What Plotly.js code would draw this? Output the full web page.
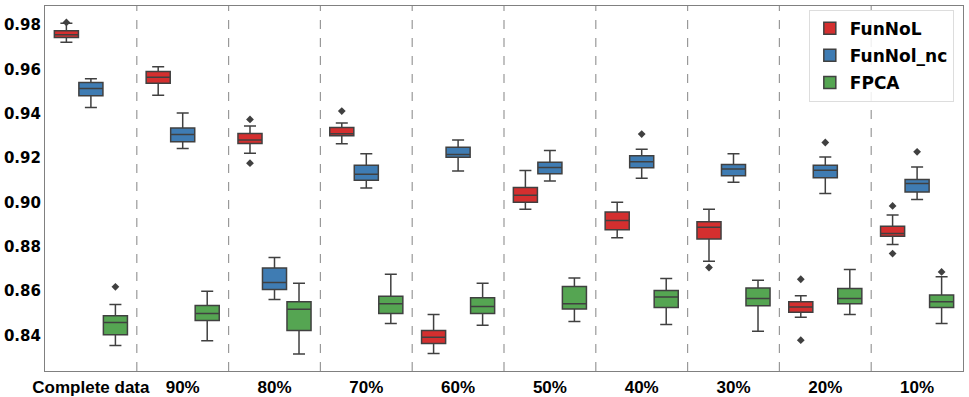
<!DOCTYPE html>
<html>
<head>
<meta charset="utf-8">
<script src="https://cdn.plot.ly/plotly-3.0.1.min.js"></script>
<style>
  html, body { margin: 0; padding: 0; background: #fff; }
  #chart { width: 969px; height: 397px; }
</style>
</head>
<body>
<div id="chart"></div>
<script>
'use strict';

const categories = ['Complete data', '90%', '80%', '70%', '60%', '50%', '40%', '30%', '20%', '10%'];
const methods = ['FunNoL', 'FunNol_nc', 'FPCA'];
const colors = ['#d42f2f', '#3f7cb3', '#55a552'];

// box stats per method, one value per category
const funnolLow = [0.9722, 0.9483, 0.9222, 0.9264, 0.8318, 0.8969, 0.8840, 0.8734, 0.8482, 0.8810];
const funnolQ1 = [0.9744, 0.9537, 0.9266, 0.9300, 0.8363, 0.9001, 0.8876, 0.8835, 0.8504, 0.8847];
const funnolMed = [0.9756, 0.9564, 0.9281, 0.9309, 0.8391, 0.9032, 0.8918, 0.8888, 0.8528, 0.8859];
const funnolQ3 = [0.9774, 0.9591, 0.9311, 0.9338, 0.8422, 0.9067, 0.8957, 0.8912, 0.8552, 0.8892];
const funnolHigh = [0.9808, 0.9612, 0.9344, 0.9358, 0.8494, 0.9144, 0.9001, 0.8969, 0.8578, 0.8943];

const ncLow = [0.9428, 0.9243, 0.8562, 0.9065, 0.9141, 0.9096, 0.9109, 0.9091, 0.9040, 0.9013];
const ncQ1 = [0.9481, 0.9273, 0.8607, 0.9100, 0.9203, 0.9129, 0.9156, 0.9120, 0.9111, 0.9047];
const ncMed = [0.9514, 0.9306, 0.8638, 0.9127, 0.9216, 0.9157, 0.9183, 0.9150, 0.9145, 0.9085];
const ncQ3 = [0.9541, 0.9336, 0.8704, 0.9167, 0.9249, 0.9181, 0.9210, 0.9171, 0.9167, 0.9103];
const ncHigh = [0.9558, 0.9403, 0.8751, 0.9219, 0.9281, 0.9234, 0.9240, 0.9219, 0.9205, 0.9160];

const fpcaLow = [0.8354, 0.8376, 0.8316, 0.8453, 0.8445, 0.8462, 0.8449, 0.8418, 0.8494, 0.8453];
const fpcaQ1 = [0.8403, 0.8467, 0.8422, 0.8498, 0.8498, 0.8519, 0.8525, 0.8533, 0.8543, 0.8525];
const fpcaMed = [0.8458, 0.8498, 0.8518, 0.8542, 0.8530, 0.8542, 0.8573, 0.8566, 0.8566, 0.8551];
const fpcaQ3 = [0.8488, 0.8534, 0.8551, 0.8576, 0.8569, 0.8620, 0.8602, 0.8614, 0.8611, 0.8582];
const fpcaHigh = [0.8539, 0.8599, 0.8635, 0.8676, 0.8635, 0.8659, 0.8656, 0.8649, 0.8697, 0.8664];

// outliers: [category index, value]
const funnolOut = [[0, 0.9812], [2, 0.9374], [2, 0.9177], [3, 0.9412], [7, 0.8706], [8, 0.8653], [8, 0.8378], [9, 0.8984], [9, 0.8769]];
const ncOut = [[6, 0.9308], [8, 0.9270], [9, 0.9228]];
const fpcaOut = [[0, 0.8619], [9, 0.8686]];

const stats = [
  [funnolLow, funnolQ1, funnolMed, funnolQ3, funnolHigh, funnolOut],
  [ncLow, ncQ1, ncMed, ncQ3, ncHigh, ncOut],
  [fpcaLow, fpcaQ1, fpcaMed, fpcaQ3, fpcaHigh, fpcaOut]
];

const offsets = [-0.267, 0, 0.267];
const edge = '#404040';
const data = [];

stats.forEach((s, m) => {
  data.push({
    type: 'box',
    name: methods[m],
    legendgroup: methods[m],
    x: categories.map((c, i) => i + offsets[m]),
    lowerfence: s[0],
    q1: s[1],
    median: s[2],
    q3: s[3],
    upperfence: s[4],
    width: 0.262,
    whiskerwidth: 0.5,
    fillcolor: colors[m],
    line: { color: edge, width: 1.5 },
    boxpoints: false,
    hoverinfo: 'y'
  });
});

stats.forEach((s, m) => {
  data.push({
    type: 'scatter',
    mode: 'markers',
    showlegend: false,
    legendgroup: methods[m],
    x: s[5].map(p => p[0] + offsets[m]),
    y: s[5].map(p => p[1]),
    marker: { symbol: 'diamond', size: 6, color: edge },
    hoverinfo: 'y'
  });
});

const shapes = [];
for (let i = 0; i < categories.length - 1; i += 1) {
  shapes.push({
    type: 'line', xref: 'x', yref: 'paper',
    x0: i + 0.5, x1: i + 0.5, y0: 0, y1: 1,
    line: { color: '#999999', width: 1.2, dash: 'dash' },
    layer: 'below'
  });
}

const xFont = { family: 'Liberation Sans', size: 17, color: '#000', weight: 'bold' };
const yFont = { family: 'DejaVu Sans', size: 15, color: '#000', weight: 'bold' };

const layout = {
  width: 969,
  height: 397,
  margin: { t: 6, l: 45, r: 6, b: 26 },
  paper_bgcolor: '#fff',
  plot_bgcolor: '#fff',
  showlegend: true,
  shapes: shapes,
  xaxis: {
    range: [-0.5, 9.5],
    tickvals: categories.map((c, i) => i),
    ticktext: categories,
    tickfont: xFont,
    showgrid: false,
    zeroline: false,
    showline: true,
    mirror: true,
    linecolor: '#808080',
    linewidth: 1.2,
    ticks: ''
  },
  yaxis: {
    range: [0.8239, 0.9886],
    tickvals: [0.84, 0.86, 0.88, 0.90, 0.92, 0.94, 0.96, 0.98],
    ticktext: ['0.84', '0.86', '0.88', '0.90', '0.92', '0.94', '0.96', '0.98'],
    tickfont: yFont,
    showgrid: false,
    zeroline: false,
    showline: true,
    mirror: true,
    linecolor: '#808080',
    linewidth: 1.2,
    ticks: ''
  },
  legend: {
    x: 0.99, y: 0.99,
    xanchor: 'right', yanchor: 'top',
    bgcolor: 'rgba(255,255,255,0.85)',
    bordercolor: '#dddddd',
    borderwidth: 1,
    font: { family: 'DejaVu Sans', size: 17, color: '#000', weight: 'bold' },
    tracegroupgap: 2
  }
};

Plotly.newPlot('chart', data, layout, { displayModeBar: false });
</script>
</body>
</html>
